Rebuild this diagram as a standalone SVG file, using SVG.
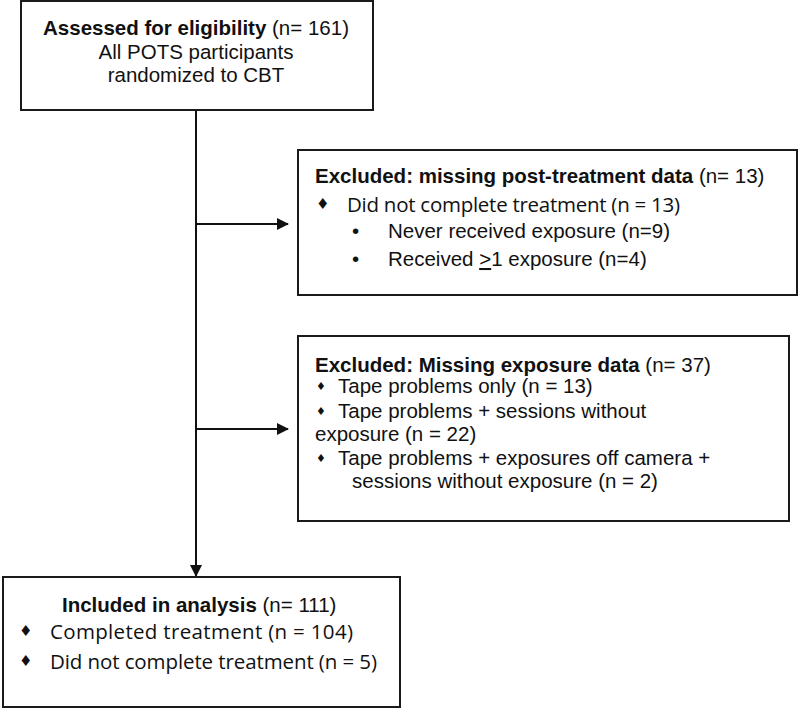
<svg xmlns="http://www.w3.org/2000/svg" width="800" height="709" viewBox="0 0 800 709">
<defs>
<style>
.box{fill:#fff;stroke:#1a1a1a;stroke-width:2}
.t{font-family:"Liberation Sans",Arial,sans-serif;font-size:20.5px;fill:#111}
.b{font-weight:bold}
.c{font-family:"Open Sans","Noto Sans",sans-serif;font-size:20.5px;fill:#111}
.d{font-family:"DejaVu Sans",sans-serif;font-size:15px;fill:#111}
.ds{font-family:"DejaVu Sans",sans-serif;font-size:11px;fill:#111}
.line{stroke:#111;stroke-width:2;fill:none}
</style>
<marker id="ah" markerWidth="12" markerHeight="12" refX="11" refY="6" orient="auto" markerUnits="userSpaceOnUse">
<path d="M0,0 L12,6 L0,12 Z" fill="#111"/>
</marker>
</defs>
<rect width="800" height="709" fill="#fff"/>
<g id="connectors">
<path class="line" d="M196,110 V576" marker-end="url(#ah)"/>
<path class="line" d="M196,224 H288" marker-end="url(#ah)"/>
<path class="line" d="M196,429 H288" marker-end="url(#ah)"/>
</g>
<g id="assessed">
<rect class="box" x="21" y="1" width="352" height="109"/>
<text class="t" x="196" y="35" text-anchor="middle"><tspan class="b">Assessed for eligibility</tspan> (n= 161)</text>
<text class="t" x="196" y="59" text-anchor="middle">All POTS participants</text>
<text class="t" x="196" y="82" text-anchor="middle">randomized to CBT</text>
</g>
<g id="excluded-post">
<rect class="box" x="298" y="150" width="499" height="145"/>
<text class="t" x="315" y="183"><tspan class="b">Excluded: missing post-treatment data</tspan> (n= 13)</text>
<text class="d" x="316" y="209">♦</text>
<text class="c" x="347" y="212" textLength="333">Did not complete treatment (n = 13)</text>
<text class="t" x="352" y="238">•</text>
<text class="t" x="388" y="238">Never received exposure (n=9)</text>
<text class="t" x="352" y="266">•</text>
<text class="t" x="388" y="266">Received <tspan text-decoration="underline">&gt;</tspan>1 exposure (n=4)</text>
</g>
<g id="excluded-exposure">
<rect class="box" x="298" y="336" width="491" height="185"/>
<text class="t" x="315" y="372"><tspan class="b">Excluded: Missing exposure data</tspan> (n= 37)</text>
<text class="ds" x="316" y="390">♦</text>
<text class="t" x="338" y="393">Tape problems only (n = 13)</text>
<text class="ds" x="316" y="415">♦</text>
<text class="t" x="338" y="418">Tape problems + sessions without</text>
<text class="t" x="315" y="441">exposure (n = 22)</text>
<text class="ds" x="316" y="462">♦</text>
<text class="t" x="338" y="465">Tape problems + exposures off camera +</text>
<text class="t" x="352" y="488">sessions without exposure (n = 2)</text>
</g>
<g id="included">
<rect class="box" x="3" y="577" width="397" height="130"/>
<text class="t" x="62" y="612"><tspan class="b">Included in analysis</tspan> (n= 111)</text>
<text class="d" x="19" y="636">♦</text>
<text class="c" x="50" y="639" textLength="303">Completed treatment (n = 104)</text>
<text class="d" x="19" y="666">♦</text>
<text class="c" x="50" y="669" textLength="327">Did not complete treatment (n = 5)</text>
</g>
</svg>
